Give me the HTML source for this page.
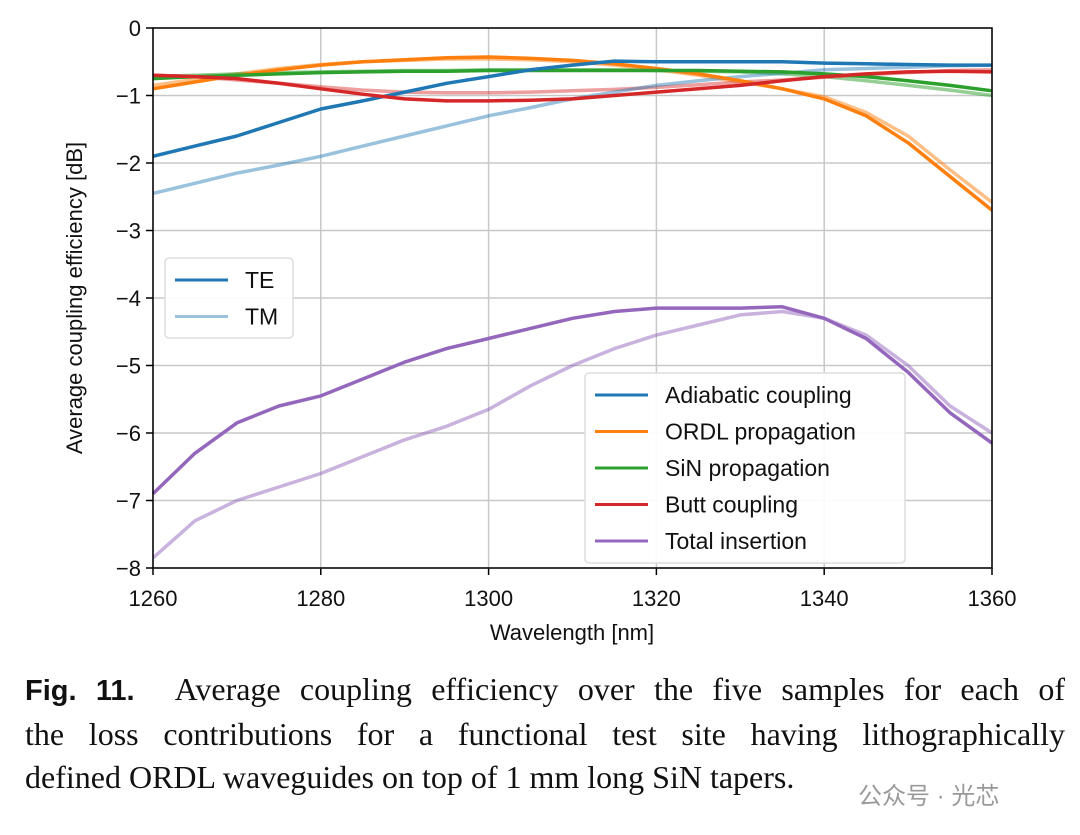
<!DOCTYPE html>
<html><head><meta charset="utf-8"><style>
body{margin:0;background:#fff;width:1080px;height:835px;overflow:hidden;position:relative;font-family:"Liberation Sans",sans-serif}
svg{position:absolute;left:0;top:0}
.cap{position:absolute;left:25px;top:668px;width:1040px;font-family:"Liberation Serif",serif;font-size:32px;line-height:43px;color:#111}
.cap div{text-align:justify;text-align-last:justify;white-space:nowrap}
.cap div.last{text-align-last:left}
.cap b{font-family:"Liberation Sans",sans-serif;font-size:29px;margin-right:40px}
.wm{position:absolute;left:858px;top:776px;font-family:"Liberation Sans","Noto Sans CJK SC",sans-serif;font-size:24px;color:#999}
</style></head><body>
<svg id="chart" width="1080" height="660"></svg>
<div class="cap"><div><b>Fig. 11.</b>Average coupling efficiency over the five samples for each of</div><div>the loss contributions for a functional test site having lithographically</div><div class="last">defined ORDL waveguides on top of 1 mm long SiN tapers.</div></div>
<div class="wm">公众号 · 光芯</div>
<script>
const wl=[1260,1265,1270,1275,1280,1285,1290,1295,1300,1305,1310,1315,1320,1325,1330,1335,1340,1345,1350,1355,1360];
const adiTE=[-1.9,-1.75,-1.6,-1.4,-1.2,-1.08,-0.95,-0.82,-0.72,-0.62,-0.55,-0.49,-0.5,-0.5,-0.5,-0.5,-0.52,-0.53,-0.54,-0.55,-0.55];
const adiTM=[-2.45,-2.3,-2.15,-2.03,-1.9,-1.75,-1.6,-1.45,-1.3,-1.18,-1.05,-0.95,-0.85,-0.78,-0.72,-0.67,-0.62,-0.6,-0.58,-0.56,-0.55];
const ordlTE=[-0.9,-0.8,-0.7,-0.62,-0.55,-0.5,-0.47,-0.44,-0.43,-0.45,-0.48,-0.53,-0.6,-0.68,-0.78,-0.9,-1.05,-1.3,-1.7,-2.2,-2.7];
const ordlTM=[-0.85,-0.76,-0.68,-0.6,-0.54,-0.5,-0.48,-0.46,-0.46,-0.47,-0.5,-0.55,-0.62,-0.7,-0.8,-0.9,-1.02,-1.25,-1.6,-2.1,-2.58];
const sinTE=[-0.75,-0.72,-0.7,-0.68,-0.66,-0.65,-0.64,-0.64,-0.63,-0.63,-0.63,-0.63,-0.63,-0.63,-0.64,-0.65,-0.68,-0.72,-0.78,-0.85,-0.93];
const sinTM=[-0.72,-0.7,-0.68,-0.66,-0.65,-0.64,-0.63,-0.63,-0.62,-0.62,-0.62,-0.62,-0.63,-0.64,-0.65,-0.68,-0.72,-0.78,-0.85,-0.92,-1.0];
const buttTE=[-0.7,-0.72,-0.75,-0.82,-0.9,-0.98,-1.05,-1.08,-1.08,-1.07,-1.05,-1.0,-0.95,-0.9,-0.85,-0.78,-0.72,-0.68,-0.65,-0.64,-0.65];
const buttTM=[-0.7,-0.72,-0.77,-0.82,-0.87,-0.92,-0.95,-0.96,-0.96,-0.95,-0.93,-0.91,-0.88,-0.84,-0.8,-0.77,-0.73,-0.69,-0.66,-0.63,-0.62];
const totTE=[-6.9,-6.3,-5.85,-5.6,-5.45,-5.2,-4.95,-4.75,-4.6,-4.45,-4.3,-4.2,-4.15,-4.15,-4.15,-4.13,-4.3,-4.6,-5.1,-5.7,-6.15];
const totTM=[-7.85,-7.3,-7.0,-6.8,-6.6,-6.35,-6.1,-5.9,-5.65,-5.3,-5.0,-4.75,-4.55,-4.4,-4.25,-4.2,-4.3,-4.55,-5.0,-5.6,-6.0];
const xTicks=[1260,1280,1300,1320,1340,1360];
const yTicks=[0,-1,-2,-3,-4,-5,-6,-7,-8];
const NS='http://www.w3.org/2000/svg';
const svg=document.getElementById('chart');
const X0=153,X1=992,Y0=28,Y1=568;
const sx=v=>X0+(v-1260)/100*(X1-X0);
const sy=v=>Y0+(0-v)/8*(Y1-Y0);
function mk(t,a,p){const e=document.createElementNS(NS,t);for(const k in a)e.setAttribute(k,a[k]);(p||svg).appendChild(e);return e;}
xTicks.forEach(t=>{
 const g=mk('line',{x1:sx(t),x2:sx(t),y1:Y0,y2:Y1,stroke:'#c8c8c8','stroke-width':1.5});
 
 
 mk('line',{x1:sx(t),x2:sx(t),y1:Y1,y2:Y1+7,stroke:'#000','stroke-width':1.5});
 const tx=mk('text',{x:sx(t),y:Y1+38,'text-anchor':'middle','font-size':22,fill:'#111'});tx.textContent=t;
 
 
});
yTicks.forEach(t=>{
 const g=mk('line',{x1:X0,x2:X1,y1:sy(t),y2:sy(t),stroke:'#c8c8c8','stroke-width':1.5});
 
 
 mk('line',{x1:X0-7,x2:X0,y1:sy(t),y2:sy(t),stroke:'#000','stroke-width':1.5});
 const tx=mk('text',{x:X0-12,y:sy(t)+8,'text-anchor':'end','font-size':22,fill:'#111'});tx.textContent=t===0?'0':'\u2212'+(-t);
 
 
});
function series(arr,col,op,name){
 const d=arr.map((v,i)=>(i?'L':'M')+sx(wl[i]).toFixed(1)+' '+sy(v).toFixed(1)).join(' ');
 const p=mk('path',{d:d,fill:'none',stroke:col,'stroke-width':3.5,'stroke-opacity':op,'stroke-linejoin':'round'});
 
 
}
series(ordlTM,'#ff7f0e',0.5,'ordl-tm-line');series(sinTM,'#2ca02c',0.5,'sin-tm-line');series(buttTM,'#d62728',0.45,'butt-tm-line');
series(adiTM,'#1f77b4',0.45,'adiabatic-tm-line');series(totTM,'#9467bd',0.5,'total-tm-line');
series(ordlTE,'#ff7f0e',1,'ordl-te-line');series(sinTE,'#2ca02c',1,'sin-te-line');series(adiTE,'#1f77b4',1,'adiabatic-te-line');
series(buttTE,'#d62728',1,'butt-te-line');series(totTE,'#9467bd',1,'total-te-line');
const fr=mk('rect',{x:X0,y:Y0,width:X1-X0,height:Y1-Y0,fill:'none',stroke:'#000','stroke-width':1.5});


const xl=mk('text',{x:572,y:640,'text-anchor':'middle','font-size':22,fill:'#111'});xl.textContent='Wavelength [nm]';


const yl=mk('text',{x:82,y:298,'text-anchor':'middle','font-size':22,fill:'#111',transform:'rotate(-90 82 298)'});yl.textContent='Average coupling efficiency [dB]';


function legend(x,y,w,h,items,nm){
 const g=mk('g',{});
 
 
 mk('rect',{x:x,y:y,width:w,height:h,rx:4,fill:'#fff','fill-opacity':0.9,stroke:'#ddd','stroke-width':1.5},g);
 items.forEach((it,i)=>{
  const cy=y+22+i*36.5;
  mk('line',{x1:x+10,x2:x+63,y1:cy,y2:cy,stroke:it[1],'stroke-width':3,'stroke-opacity':it[2]},g);
  const t=mk('text',{x:x+80,y:cy+8,'font-size':23,fill:'#111'},g);t.textContent=it[0];
 });
}
legend(165,258,128,80,[['TE','#1f77b4',1],['TM','#1f77b4',0.45]],'polarization-legend');
legend(585,373,320,190,[['Adiabatic coupling','#1f77b4',1],['ORDL propagation','#ff7f0e',1],['SiN propagation','#2ca02c',1],['Butt coupling','#d62728',1],['Total insertion','#9467bd',1]],'contribution-legend');
</script>
</body></html>
